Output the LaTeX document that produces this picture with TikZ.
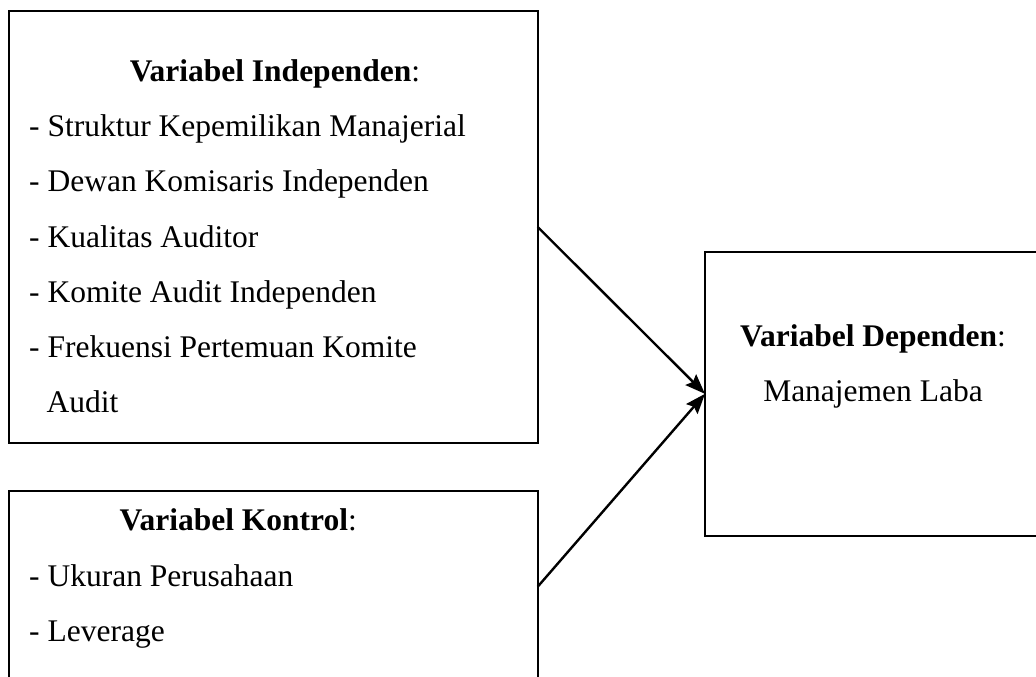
\documentclass[tikz,border=0pt]{standalone}
\usepackage{fontspec}
\setmainfont{Liberation Serif}
\usetikzlibrary{arrows.meta}
\begin{document}
\begin{tikzpicture}[x=1pt,y=-1pt,
  box/.style={draw=black,line width=1.8pt,rectangle,outer sep=0pt,inner sep=0pt},
  title/.style={anchor=base,inner sep=0pt,font=\fontsize{31.5}{38}\selectfont},
  item/.style={anchor=base west,inner sep=0pt,font=\fontsize{31.5}{38}\selectfont},
  conn/.style={line width=2.4pt,-{Stealth[length=20pt,width=15pt,inset=3pt]}}]
\useasboundingbox (0,0) rectangle (1036,677);
% boxes
\node[box,minimum width=528.7pt,minimum height=432pt] (ind) at (273.35,227) {};
\node[box,minimum width=528.7pt,minimum height=191.4pt] (kon) at (273.35,586.7) {};
\node[box,minimum width=360pt,minimum height=284.3pt] (dep) at (885,393.85) {};
% independent
\node[title] (t1) at (274.9,81.7) {\textbf{Variabel Independen}:};
\node[item] (i1) at (29,136.7) {- Struktur Kepemilikan Manajerial};
\node[item] (i2) at (29,191.7) {- Dewan Komisaris Independen};
\node[item] (i3) at (29,247) {- Kualitas Auditor};
\node[item] (i4) at (29,302.5) {- Komite Audit Independen};
\node[item] (i5) at (29,357.7) {- Frekuensi Pertemuan Komite};
\node[item] (i6) at (46.5,412.7) {Audit};
% control
\node[title] (t2) at (238.3,530.7) {\textbf{Variabel Kontrol}:};
\node[item] (k1) at (29,586.7) {- Ukuran Perusahaan};
\node[item] (k2) at (29,641.7) {- Leverage};
% dependent
\node[title] (t3) at (873,346.7) {\textbf{Variabel Dependen}:};
\node[title] (d1) at (873,401.7) {Manajemen Laba};
% connectors
\draw[conn] (ind.east) -- (dep.west);
\draw[conn] (kon.east) -- (dep.west);
\end{tikzpicture}
\end{document}
